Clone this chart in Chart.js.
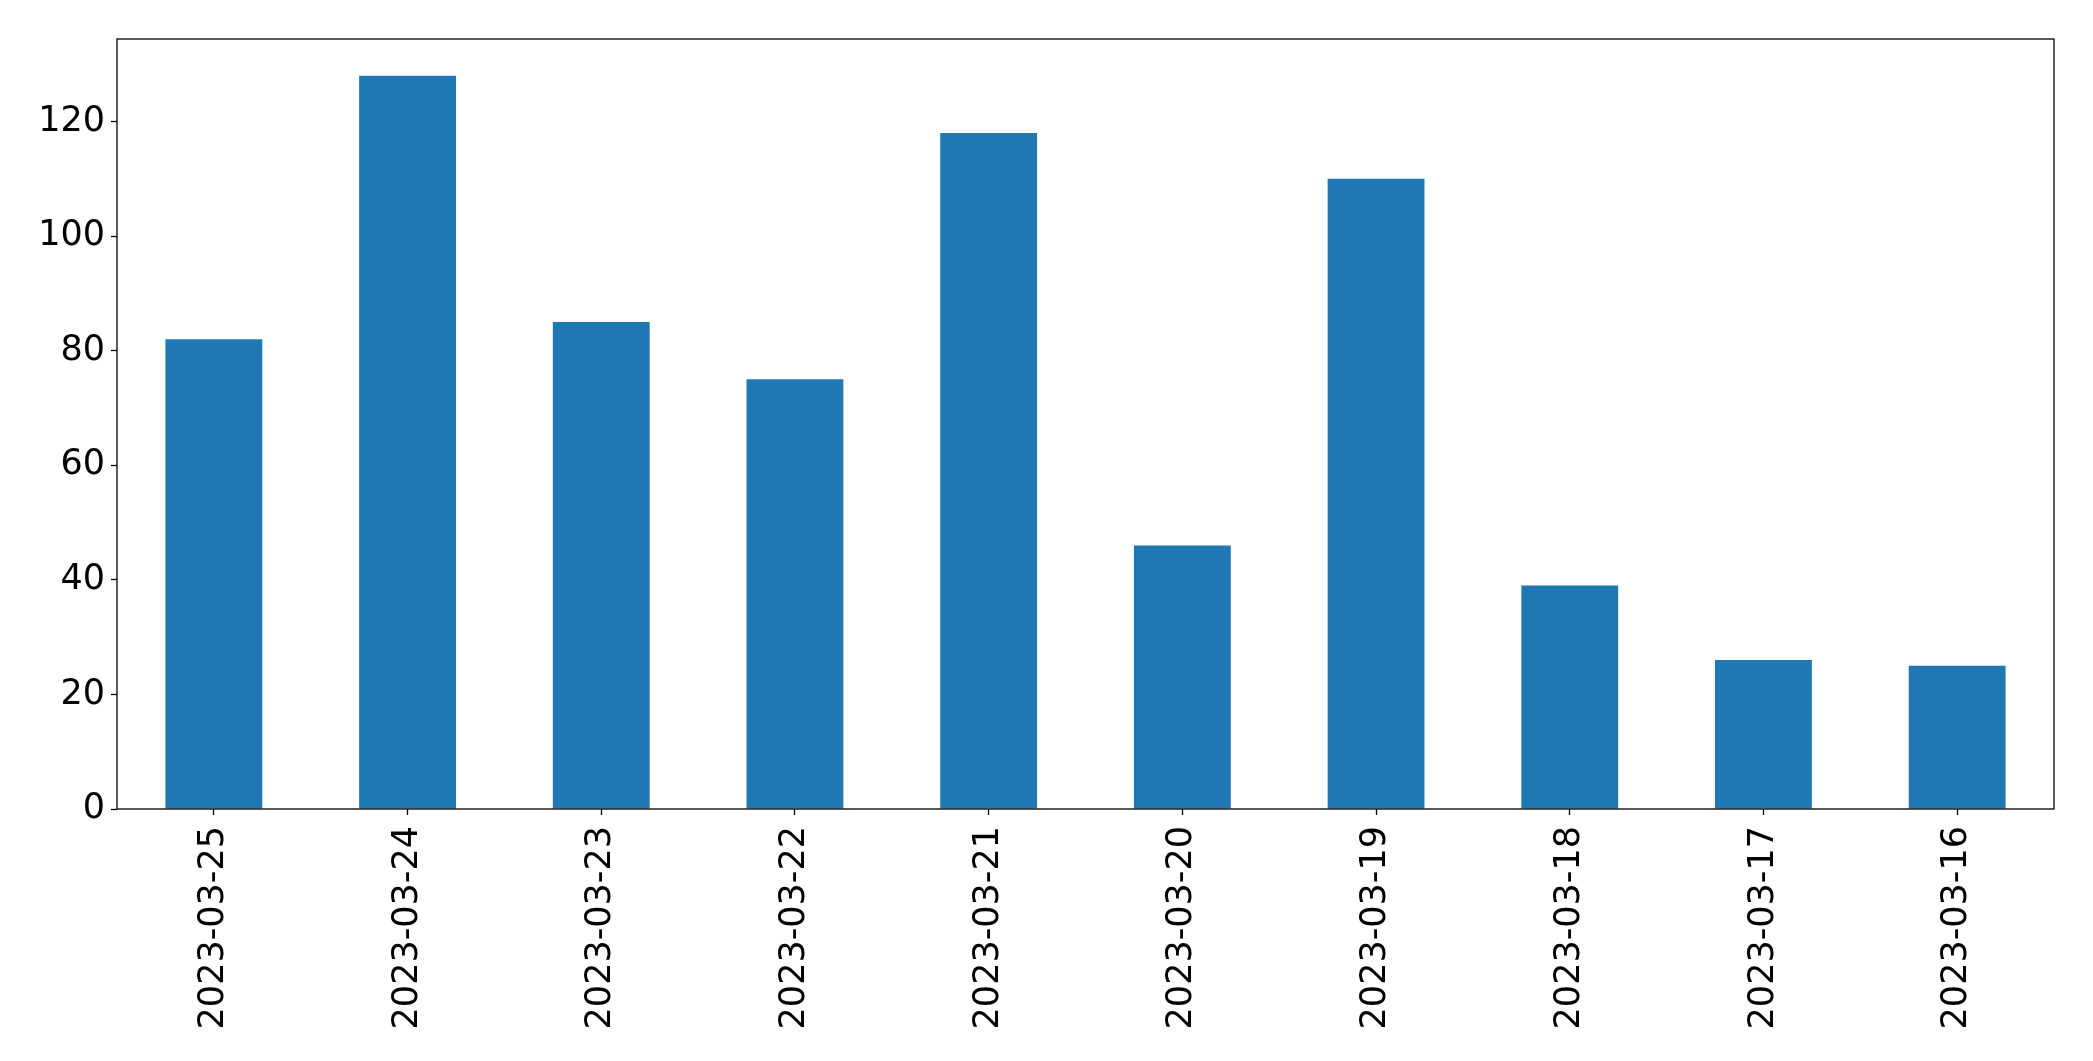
<!DOCTYPE html>
<html lang="en">
<head>
    <meta charset="UTF-8">
    <title>Daily counts</title>
    <style>
        body {
            margin: 0;
            padding: 0;
            background: white;
        }
        #wrap {
            width: 2093px;
            height: 1061px;
        }
    </style>
    <script src="https://cdn.jsdelivr.net/npm/chart.js"></script>
</head>
<body>
    <div id="wrap">
        <canvas id="barChart" width="2093" height="1061"></canvas>
    </div>

    <script>
    const dates = ["2023-03-25", "2023-03-24", "2023-03-23", "2023-03-22", "2023-03-21",
                   "2023-03-20", "2023-03-19", "2023-03-18", "2023-03-17", "2023-03-16"];
    const counts = [82, 128, 85, 75, 118, 46, 110, 39, 26, 25];
    const yTicks = [0, 20, 40, 60, 80, 100, 120];
    const yMax = 134.4;

    // frame round the plot area, like a matplotlib axes box
    const frame = {
        id: "frame",
        afterDraw(chart) {
            const a = chart.chartArea;
            const ctx = chart.ctx;
            ctx.save();
            ctx.strokeStyle = "#000";
            ctx.lineWidth = 1.3;
            ctx.strokeRect(a.left, a.top, a.right - a.left, a.bottom - a.top);
            ctx.restore();
        }
    };

    const font = { family: "'DejaVu Sans', sans-serif", size: 35 };

    new Chart(document.getElementById("barChart"), {
        type: "bar",
        data: {
            labels: dates,
            datasets: [{
                data: counts,
                backgroundColor: "#1f77b4",
                barPercentage: 0.5,
                categoryPercentage: 1.0
            }]
        },
        options: {
            responsive: false,
            animation: false,
            layout: { padding: { left: 0, top: 39, right: 39, bottom: 0 } },
            plugins: {
                legend: { display: false },
                tooltip: { enabled: false }
            },
            scales: {
                x: {
                    grid: { offset: false, drawOnChartArea: false, drawTicks: true, tickLength: 6, color: "#000", tickWidth: 1.3 },
                    border: { display: false },
                    ticks: {
                        color: "#000",
                        font: font,
                        minRotation: 90,
                        maxRotation: 90,
                        padding: 11
                    },
                    afterFit(scale) { scale.height = 252; }
                },
                y: {
                    min: 0,
                    max: yMax,
                    afterBuildTicks(scale) {
                        scale.ticks = yTicks.map(v => ({ value: v }));
                    },
                    grid: { drawOnChartArea: false, drawTicks: true, tickLength: 6, color: "#000", tickWidth: 1.3 },
                    border: { display: false },
                    ticks: {
                        color: "#000",
                        font: font,
                        padding: 6
                    },
                    afterFit(scale) { scale.width = 117; }
                }
            }
        },
        plugins: [frame]
    });
    </script>
</body>
</html>
